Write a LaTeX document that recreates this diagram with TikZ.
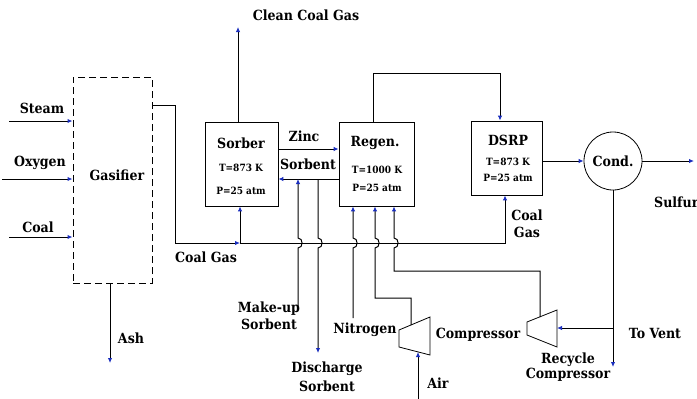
\documentclass[tikz,border=0pt]{standalone}
\usepackage{fontspec}
\setmainfont{DejaVu Serif Condensed}
\usetikzlibrary{arrows.meta}
\definecolor{tipblue}{RGB}{25,45,190}
\tikzset{
  flow/.style={line width=1pt,-{Latex[length=5pt,width=4.5pt,color=tipblue]}},
  unit/.style={draw,line width=0.8pt,inner sep=0pt},
  tag/.style={font=\bfseries\fontsize{14}{17}\selectfont,inner sep=0pt,align=center},
  cond/.style={font=\bfseries\fontsize{10}{12}\selectfont,inner sep=0pt},
}
\begin{document}
\begin{tikzpicture}[x=1pt,y=-1pt]
\useasboundingbox (0,0) rectangle (697,399);
% Units
\node[unit,line width=1pt,dash pattern=on 7pt off 4pt,minimum width=79pt,minimum height=206pt] (gasifier) at (112.5,180) {};
\node[tag] (gastext) at (117,175) {Gasifier};
\node[unit,minimum width=73pt,minimum height=84pt] (sorber) at (241.5,164) {};
\node[tag] (sorbertext) at (241,143) {Sorber};
\node[cond] (sorbert) at (241,168) {T=873 K};
\node[cond] (sorberp) at (241,191) {P=25 atm};
\node[unit,minimum width=75pt,minimum height=84pt] (regen) at (376.5,164) {};
\node[tag] (regentext) at (375,143) {Regen.};
\node[cond] (regent) at (377,170) {T=1000 K};
\node[cond] (regenp) at (377,188) {P=25 atm};
\node[unit,minimum width=71pt,minimum height=74pt] (dsrp) at (506.5,158) {};
\node[tag] (dsrptext) at (508,140) {DSRP};
\node[cond] (dsrpt) at (508,162) {T=873 K};
\node[cond] (dsrpp) at (508,178) {P=25 atm};
\node[unit,tag,circle,line width=0.8pt,minimum size=58pt] (cond) at (613,161) {Cond.};
% Compressors
\draw[line width=0.8pt] (399,330) -- (430,317) -- (430,355) -- (399,347) -- cycle;
\draw[line width=0.8pt] (527,322) -- (557,310) -- (557,347) -- (527,335) -- cycle;
\coordinate (comp1out) at (411,325);
\coordinate (comp1in) at (418,352);
\coordinate (comp2out) at (540,317);
\coordinate (comp2in) at (557,328);
% Free ends
\coordinate (steamin) at (9,121);
\coordinate (oxin) at (2,179);
\coordinate (coalin) at (9,237);
\coordinate (ashout) at (110,363);
\coordinate (tee) at (240,243);
\coordinate (dsrpgas) at (505,243);
\coordinate (cleanout) at (238,27);
\coordinate (mkupin) at (298,310);
\coordinate (mkupjoin) at (298,179);
\coordinate (dischjoin) at (318,179);
\coordinate (dischout) at (318,353);
\coordinate (n2in) at (353,318);
\coordinate (airin) at (418,399);
\coordinate (split) at (613,328);
\coordinate (vent) at (613,367);
\coordinate (sulfurout) at (694,162);
% Gasifier streams
\draw[flow] (steamin) -- (steamin -| gasifier.west);
\draw[flow] (oxin) -- (oxin -| gasifier.west);
\draw[flow] (coalin) -- (coalin -| gasifier.west);
\draw[flow] (gasifier.south -| ashout) -- (ashout);
\draw[flow] (gasifier.east |- 0,105) -- (175,105) -- (175,243) -- (tee);
% Coal gas
\draw[flow] (tee) -- (tee |- sorber.south);
\draw[flow] (tee) -- (dsrpgas) -- (dsrpgas |- dsrp.south);
\draw[flow] (sorber.north -| cleanout) -- (cleanout);
% Zinc sorbent loop
\draw[flow] (sorber.east |- 0,149) -- (regen.west |- 0,149);
\draw[flow] (regen.west |- 0,179) -- (sorber.east |- 0,179);
\draw[flow] (mkupin) -- (298,248) to[out=0,in=0,looseness=1.4] ++(0,-10) -- (mkupjoin);
\draw[flow] (dischjoin) -- (318,238) to[out=0,in=0,looseness=1.4] ++(0,10) -- (dischout);
% Regenerator feeds
\draw[flow] (n2in) -- (353,248) to[out=0,in=0,looseness=1.4] ++(0,-10) -- (n2in |- regen.south);
\draw[flow] (airin) -- (comp1in);
\draw[flow] (comp1out) -- (411,298) -- (375,298) -- (375,248) to[out=0,in=0,looseness=1.4] ++(0,-10) -- (375,0 |- regen.south);
\draw[flow] (comp2out) -- (540,271) -- (394,271) -- (394,248) to[out=0,in=0,looseness=1.4] ++(0,-10) -- (394,0 |- regen.south);
\draw[flow] (regen.north -| 373,0) -- (373,73) -- (500,73) -- (500,0 |- dsrp.north);
% DSRP and condenser
\draw[flow] (dsrp.east |- cond.west) -- (cond.west);
\draw[flow] (cond.east) -- (sulfurout |- cond.east);
\draw[flow] (cond.south) -- (vent);
\draw[flow] (split) -- (comp2in);
% Labels
\node[tag] (steam) at (42,108) {Steam};
\node[tag] (oxygen) at (40,163) {Oxygen};
\node[tag] (coal) at (38,227) {Coal};
\node[tag] (ash) at (131,338) {Ash};
\node[tag] (coalgas) at (206,257) {Coal Gas};
\node[tag] (cleangas) at (306,15) {Clean Coal Gas};
\node[tag] (zinc) at (304,136) {Zinc};
\node[tag] (sorbent) at (308,164) {Sorbent};
\node[tag] (makeup) at (269,316) {Make-up\\Sorbent};
\node[tag] (discharge) at (327,377) {Discharge\\[2pt]Sorbent};
\node[tag] (nitrogen) at (365,330) {Nitrogen};
\node[tag] (air) at (438,383) {Air};
\node[tag] (compressor) at (478,335) {Compressor};
\node[tag] (recycle) at (568,367) {Recycle\\[-2pt]Compressor};
\node[tag] (tovent) at (655,333) {To Vent};
\node[tag,anchor=west] (sulfur) at (654,202) {Sulfur};
\node[tag] (dsrpcoal) at (527,224) {Coal\\Gas};
\end{tikzpicture}
\end{document}
